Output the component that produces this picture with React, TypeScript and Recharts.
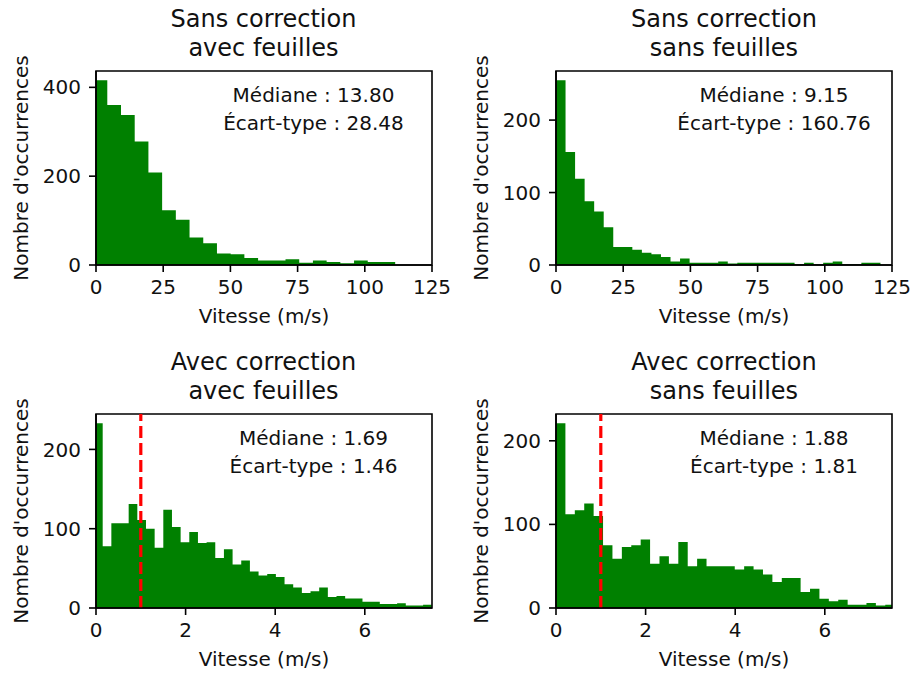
import React from 'react';
import { ComposedChart, Area, XAxis, YAxis, ReferenceLine, ReferenceArea, Label } from 'recharts';

const FONT = "'DejaVu Sans', sans-serif";
const INK = '#111';
const BAR = '#008000';

const rawTicks = [0, 25, 50, 75, 100, 125];
const correctedTicks = [0, 2, 4, 6];

// Sans correction, avec feuilles
const rawLeavesStart = -0.9;
const rawLeavesWidth = 5.1;
const rawLeavesCounts = [416, 360, 338, 278, 208, 123, 102, 62, 49, 26, 24, 16, 10, 10, 13, 5, 10, 7, 4, 10, 7, 7];

// Sans correction, sans feuilles
const rawBareStart = 0;
const rawBareWidth = 3.55;
const rawBareCounts = [255, 156, 119, 88, 74, 52, 25, 25, 21, 17, 15, 11, 5, 9, 3, 3, 3, 5, 2, 3, 3, 3, 3, 3, 3, 1, 3, 1, 3, 5, 1, 1, 3, 3];

// Avec correction, avec feuilles
const corrLeavesStart = -0.044;
const corrLeavesWidth = 0.1933;
const corrLeavesCounts = [233, 78, 107, 107, 131, 111, 100, 76, 124, 102, 83, 96, 82, 83, 63, 74, 55, 60, 46, 41, 43, 39, 30, 26, 19, 21, 26, 14, 15, 12, 12, 8, 8, 5, 5, 6, 3, 3, 4];

// Avec correction, sans feuilles
const corrBareStart = 0;
const corrBareWidth = 0.21;
const corrBareCounts = [221, 112, 117, 125, 110, 75, 59, 73, 75, 82, 53, 62, 53, 79, 50, 59, 50, 50, 50, 46, 50, 46, 40, 31, 36, 36, 19, 23, 11, 8, 10, 4, 4, 6, 3, 4];

const titles = [
  ['Sans correction', 'avec feuilles'],
  ['Sans correction', 'sans feuilles'],
  ['Avec correction', 'avec feuilles'],
  ['Avec correction', 'sans feuilles'],
];
const medians = ['13.80', '9.15', '1.69', '1.88'];
const stdDevs = ['28.48', '160.76', '1.46', '1.81'];

const threshold = 1;

// plot area size (px) and the top-left corner of each plot area
const PW = 336;
const PH = 194;
const YAXIS_W = 150;
const XAXIS_H = 60;
const M_TOP = 40;
const M_RIGHT = 30;
const corners = [
  [95.5, 71],
  [556, 71],
  [95.5, 414],
  [556, 414],
];

type Step = { v: number; n: number };

// histogram as a step outline: one point per left bin edge, plus the closing edge
const toSteps = (start: number, width: number, counts: number[]): Step[] => {
  const pts = counts.map((n, i) => ({ v: start + i * width, n }));
  pts.push({ v: start + counts.length * width, n: counts[counts.length - 1] });
  return pts;
};

type PanelProps = {
  left: number;
  top: number;
  data: Step[];
  xMax: number;
  xTicks: number[];
  yTicks: number[];
  yMax: number;
  showThreshold?: boolean;
};

const tickStyle = { fill: INK, fontSize: 20, fontFamily: FONT };
const lineStyle = { stroke: '#000', strokeWidth: 1.6 };

const Panel = ({ left, top, data, xMax, xTicks, yTicks, yMax, showThreshold }: PanelProps) => (
  <div style={{ position: 'absolute', left: left - YAXIS_W, top: top - M_TOP }}>
    <ComposedChart
      width={YAXIS_W + PW + M_RIGHT}
      height={M_TOP + PH + XAXIS_H + 6}
      data={data}
      margin={{ top: M_TOP, right: M_RIGHT, bottom: 6, left: 0 }}
    >
      <XAxis
        dataKey="v"
        type="number"
        domain={[0, xMax]}
        ticks={xTicks}
        allowDataOverflow
        interval={0}
        height={XAXIS_H}
        tick={tickStyle}
        tickSize={7}
        tickMargin={8}
        tickLine={lineStyle}
        axisLine={lineStyle}
      >
        <Label value="Vitesse (m/s)" position="insideBottom" offset={2} style={{ fill: INK, fontSize: 20, fontFamily: FONT }} />
      </XAxis>
      <YAxis
        type="number"
        domain={[0, yMax]}
        ticks={yTicks}
        width={YAXIS_W}
        interval={0}
        tick={tickStyle}
        tickSize={7}
        tickMargin={8}
        tickLine={lineStyle}
        axisLine={lineStyle}
      >
        <Label value="Nombre d'occurrences" angle={-90} position="center" style={{ fill: INK, fontSize: 20, fontFamily: FONT }} />
      </YAxis>
      <Area
        dataKey="n"
        type="stepAfter"
        stroke="none"
        fill={BAR}
        fillOpacity={1}
        dot={false}
        activeDot={false}
        isAnimationActive={false}
      />
      {showThreshold && (
        <ReferenceLine x={threshold} stroke="#ff0000" strokeWidth={3.2} strokeDasharray="12 5" />
      )}
      <ReferenceArea x1={0} x2={xMax} y1={0} y2={yMax} fill="none" stroke="#000" strokeWidth={1.6} ifOverflow="visible" />
    </ComposedChart>
  </div>
);

const peak = (counts: number[]) => Math.max(...counts) * 1.05;

export default function App() {
  const panels = [
    { data: toSteps(rawLeavesStart, rawLeavesWidth, rawLeavesCounts), xMax: 125, xTicks: rawTicks, yTicks: [0, 200, 400], yMax: peak(rawLeavesCounts) },
    { data: toSteps(rawBareStart, rawBareWidth, rawBareCounts), xMax: 125, xTicks: rawTicks, yTicks: [0, 100, 200], yMax: peak(rawBareCounts) },
    { data: toSteps(corrLeavesStart, corrLeavesWidth, corrLeavesCounts), xMax: 7.5, xTicks: correctedTicks, yTicks: [0, 100, 200], yMax: peak(corrLeavesCounts), showThreshold: true },
    { data: toSteps(corrBareStart, corrBareWidth, corrBareCounts), xMax: 7.5, xTicks: correctedTicks, yTicks: [0, 100, 200], yMax: peak(corrBareCounts), showThreshold: true },
  ];

  return (
    <div style={{ position: 'absolute', left: 0, top: 0, width: 912, height: 675, background: '#fff', overflow: 'hidden' }}>
      {panels.map((p, i) => (
        <Panel key={i} left={corners[i][0]} top={corners[i][1]} {...p} />
      ))}
      <svg width={912} height={675} style={{ position: 'absolute', left: 0, top: 0, pointerEvents: 'none' }}>
        {corners.map(([x, y], i) => (
          <g key={i} fontFamily={FONT} fill={INK} textAnchor="middle">
            <text x={x + PW / 2} y={y - 44.5} fontSize={24}>{titles[i][0]}</text>
            <text x={x + PW / 2} y={y - 15} fontSize={24}>{titles[i][1]}</text>
            <text x={x + 218} y={y + 31} fontSize={20}>{`Médiane : ${medians[i]}`}</text>
            <text x={x + 218} y={y + 59} fontSize={20}>{`Écart-type : ${stdDevs[i]}`}</text>
          </g>
        ))}
      </svg>
    </div>
  );
}
